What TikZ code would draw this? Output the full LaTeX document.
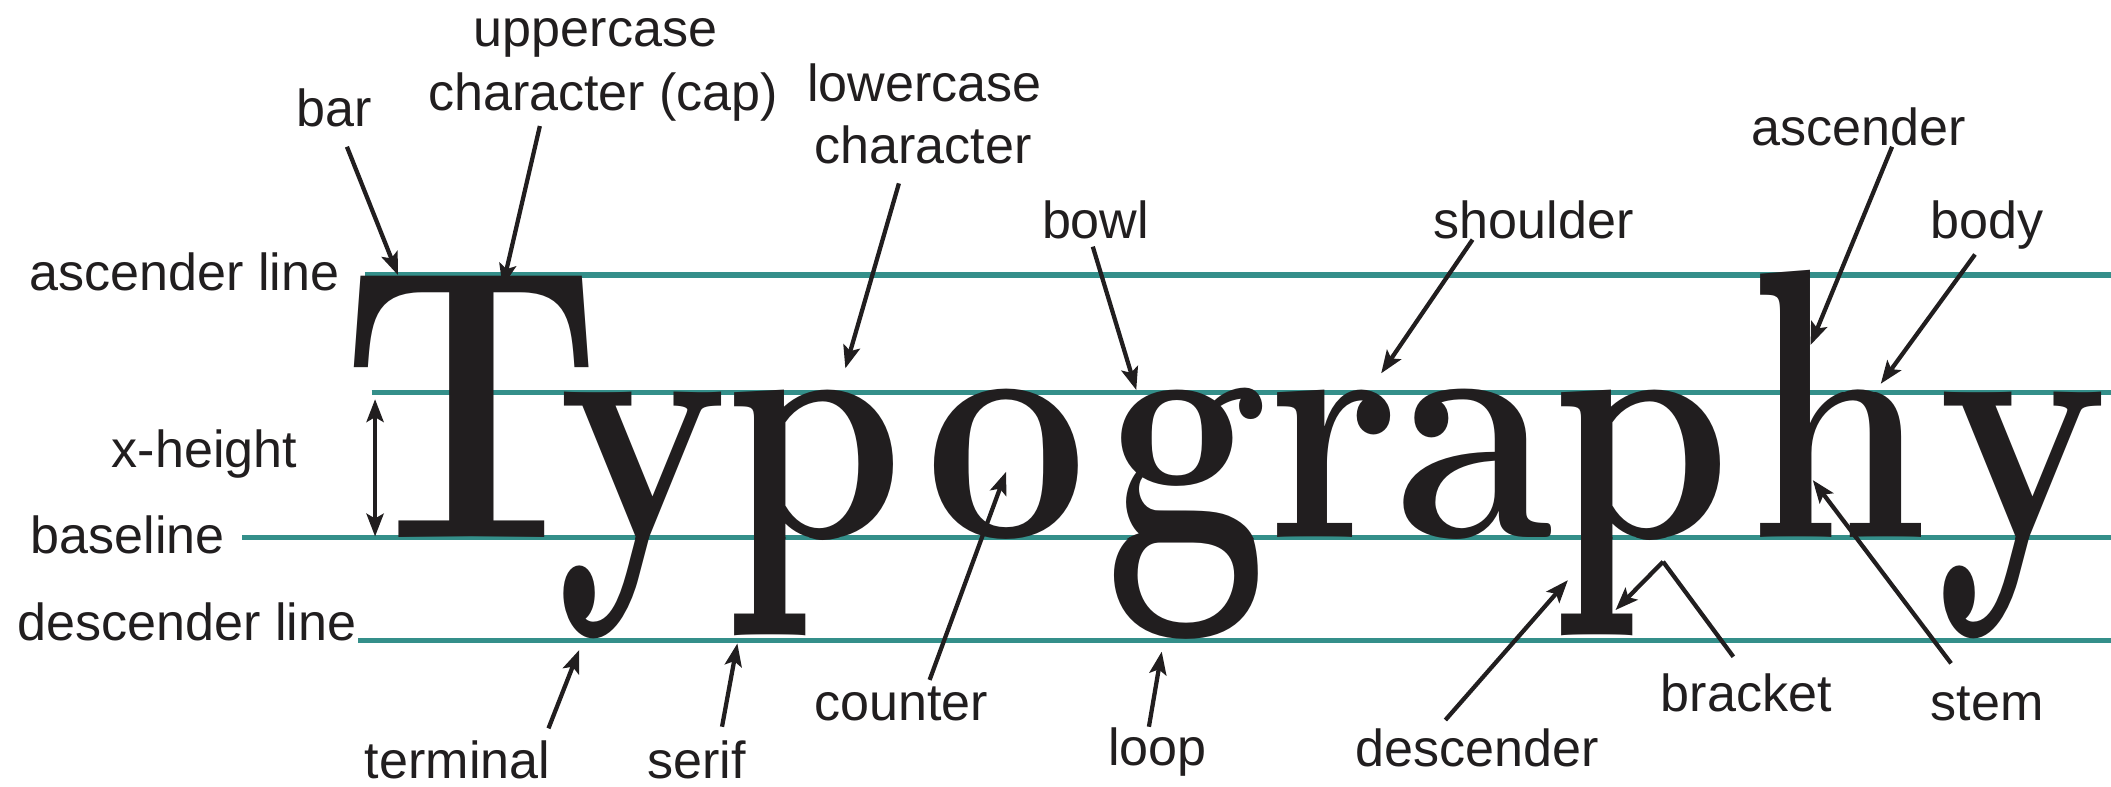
\documentclass[tikz,border=0pt]{standalone}
\usepackage{fontspec}
\newfontfamily\labfont{Liberation Sans}
\usetikzlibrary{arrows.meta}
\definecolor{guide}{RGB}{52,143,138}
\definecolor{inkc}{RGB}{33,30,31}
\newlength\gX \newlength\gA \newlength\gD \newlength\gT \newlength\gTw
\newcommand\BF{\fontsize{60pt}{72pt}\selectfont\bfseries}
% #1 name, #2 letter, #3 centre x, #4 clip top, #5 clip bottom, #6 yshift, #7 yscale
\newcommand\glyphcopy[7]{%
  \begin{scope}
    \clip (380,#4) rectangle (1568,#5);
    \node[glyph, yshift=#6, xscale=\sxw, yscale=#7] (#1) at (#3,399.5) {\BF #2};
  \end{scope}}
\begin{document}
% measurements of the big serif font (outside the picture, where fonts are active)
\settoheight\gX{\BF x}%
\settoheight\gA{\BF h}%
\settodepth\gD{\BF p}%
\settoheight\gT{\BF T}%
\settowidth\gTw{\BF T}%
\pgfmathsetmacro\sym{30.729/\gX}%
\pgfmathsetmacro\syt{(56.621-30.729)/(\gA-\gX)}%
\pgfmathsetmacro\toff{30.729-\syt*\gX}%
\pgfmathsetmacro\syb{20.771/\gD}%
\pgfmathsetmacro\sxw{0.88*\sym}%
\pgfmathsetmacro\syT{55.198/\gT}%
\pgfmathsetmacro\sxT{51.215/(\gTw-3.6)}%
\begin{tikzpicture}[x=0.01cm, y=-0.01cm,
  lab/.style={font=\labfont\fontsize{11pt}{13pt}\selectfont, inner sep=0pt, outer sep=0pt, anchor=base west, text=inkc},
  glyph/.style={anchor=base, inner sep=0pt, outer sep=0pt, text=inkc},
  guideline/.style={draw=guide, line width=1.1pt},
  pointer/.style={draw=inkc, line width=0.9pt, -{Stealth[length=4.8pt,width=3.6pt,inset=1pt]}},
  plainline/.style={draw=inkc, line width=0.9pt}]
\useasboundingbox (0,0) rectangle (1568,584);

% guide lines
\coordinate (ascL) at (271,204.3);  \coordinate (ascR) at (1568,204.3);
\coordinate (xhL)  at (276,291.5);  \coordinate (xhR)  at (1568,291.5);
\coordinate (baseL) at (180,399.5); \coordinate (baseR) at (1568,399.5);
\coordinate (descL) at (266,475.5); \coordinate (descR) at (1568,475.5);
\draw[guideline] (ascL) -- (ascR);
\draw[guideline] (xhL) -- (xhR);
\draw[guideline] (baseL) -- (baseR);
\draw[guideline] (descL) -- (descR);

% the word: capital T, then lower-case letters (ascender and descender parts
% are drawn with their own vertical scale so that they reach the guide lines)
\node[glyph, xscale=\sxT, yscale=\syT] (bigT) at (350.8,399.5) {\BF T};
% y
\glyphcopy{y1m}{y}{477.5}{0}{399.8}{0pt}{\sym}
\glyphcopy{y1d}{y}{477.5}{399.2}{584}{0pt}{\syb}
% p
\glyphcopy{p1m}{p}{605.3}{0}{399.8}{0pt}{\sym}
\glyphcopy{p1d}{p}{605.3}{399.2}{584}{0pt}{\syb}
% o
\glyphcopy{o1m}{o}{747.4}{0}{584}{0pt}{\sym}
% g
\glyphcopy{g1m}{g}{881.8}{0}{399.8}{0pt}{\sym}
\glyphcopy{g1d}{g}{881.8}{399.2}{584}{0pt}{\syb}
% r
\glyphcopy{r1m}{r}{990.8}{0}{584}{0pt}{\sym}
% a
\glyphcopy{a1m}{a}{1095}{0}{584}{0pt}{\sym}
% p
\glyphcopy{p2m}{p}{1219.3}{0}{399.8}{0pt}{\sym}
\glyphcopy{p2d}{p}{1219.3}{399.2}{584}{0pt}{\syb}
% h
\glyphcopy{h1m}{h}{1365.7}{291.2}{584}{0pt}{\sym}
\glyphcopy{h1a}{h}{1365.7}{0}{291.8}{\toff pt}{\syt}
% y
\glyphcopy{y2m}{y}{1502.5}{0}{399.8}{0pt}{\sym}
\glyphcopy{y2d}{y}{1502.5}{399.2}{584}{0pt}{\syb}

% left labels
\node[lab, anchor=base east] (lAscLine) at (252,215.4) {ascender line};
\node[lab] (lXh) at (83,347.5) {x-height};
\node[lab] (lBase) at (23,411) {baseline};
\node[lab] (lDesc) at (13,476) {descender line};

% top labels
\node[lab] (lBar) at (220,94) {bar};
\node[lab] (lUpper) at (352,34.7) {uppercase};
\node[lab] (lCap) at (318,81.7) {character (cap)};
\node[lab] (lLower) at (599.5,75.5) {lowercase};
\node[lab] (lLower2) at (605,121.3) {character};
\node[lab] (lBowl) at (774,177) {bowl};
\node[lab] (lShoulder) at (1065,177) {shoulder};
\node[lab] (lAsc) at (1301,107.7) {ascender};
\node[lab] (lBody) at (1434,177) {body};

% bottom labels
\node[lab] (lTerm) at (271,578) {terminal};
\node[lab] (lSerif) at (481,578) {serif};
\node[lab] (lCounter) at (605,535) {counter};
\node[lab] (lLoop) at (823,568.5) {loop};
\node[lab] (lDescender) at (1007,569.5) {descender};
\node[lab] (lBracket) at (1233.6,528.6) {bracket};
\node[lab] (lStem) at (1434,535) {stem};

% x-height dimension arrow
\coordinate (xa) at (278.6,296.5);
\coordinate (xb) at (278.6,398.5);
\draw[draw=inkc, line width=0.9pt, {Stealth[length=4.8pt,width=3.6pt,inset=1pt]}-{Stealth[length=4.8pt,width=3.6pt,inset=1pt]}] (xa) -- (xb);

% pointer arrows: tail -> tip
\coordinate (barT) at (257.7,109);     \coordinate (barH) at (295.6,204.3);
\coordinate (capT) at (401,93.6);      \coordinate (capH) at (373.3,212.9);
\coordinate (lowT) at (667.7,136.2);   \coordinate (lowH) at (627.9,273.6);
\coordinate (bowlT) at (811.7,183.2);  \coordinate (bowlH) at (844,289.7);
\coordinate (shT) at (1093.8,178);     \coordinate (shH) at (1025.9,277.3);
\coordinate (ascT) at (1405.4,109);    \coordinate (ascH) at (1344.8,256.3);
\coordinate (bodyT) at (1467,189);     \coordinate (bodyH) at (1397,285);
\coordinate (cntT) at (690.5,505);     \coordinate (cntH) at (747.3,350.4);
\coordinate (termT) at (407.4,541);    \coordinate (termH) at (430.2,482.8);
\coordinate (serT) at (536.3,539.8);   \coordinate (serH) at (547.7,477.9);
\coordinate (loopT) at (853.4,539.8);  \coordinate (loopH) at (862.9,484);
\coordinate (dscT) at (1073.6,534.8);  \coordinate (dscH) at (1164.6,430.9);
\coordinate (brT) at (1287.5,487.8);   \coordinate (brK) at (1235.3,417.2); \coordinate (brH) at (1200,453.1);
\coordinate (stT) at (1449.2,492.7);   \coordinate (stH) at (1346.5,356.6);

\draw[pointer] (barT) -- (barH);
\draw[pointer] (capT) -- (capH);
\draw[pointer] (lowT) -- (lowH);
\draw[pointer] (bowlT) -- (bowlH);
\draw[pointer] (shT) -- (shH);
\draw[pointer] (ascT) -- (ascH);
\draw[pointer] (bodyT) -- (bodyH);
\draw[pointer] (cntT) -- (cntH);
\draw[pointer] (termT) -- (termH);
\draw[pointer] (serT) -- (serH);
\draw[pointer] (loopT) -- (loopH);
\draw[pointer] (dscT) -- (dscH);
\draw[plainline] (brT) -- (brK);
\draw[pointer] (brK) -- (brH);
\draw[pointer] (stT) -- (stH);
\end{tikzpicture}
\end{document}
